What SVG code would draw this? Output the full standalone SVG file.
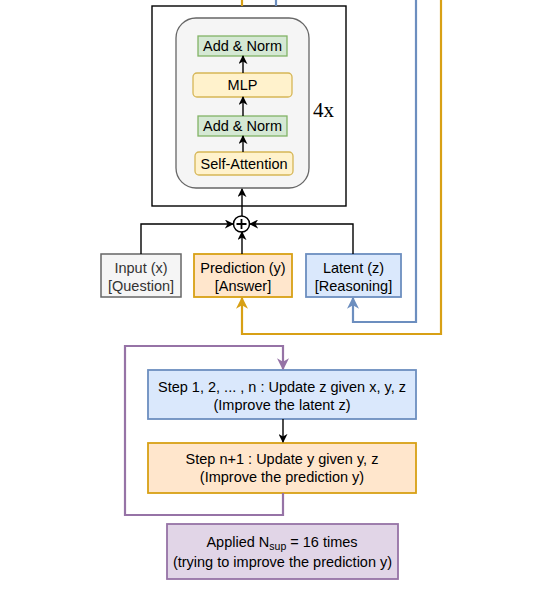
<svg xmlns="http://www.w3.org/2000/svg" width="553" height="600" viewBox="0 0 553 600">
<defs>
<marker id="ab" viewBox="0 0 10 10" refX="9" refY="5" markerWidth="9" markerHeight="9" markerUnits="userSpaceOnUse" orient="auto"><path d="M0,0 L10,5 L0,10 L3,5 Z" fill="#000"/></marker>
<marker id="ao" viewBox="0 0 10 10" refX="9" refY="5" markerWidth="12" markerHeight="12" markerUnits="userSpaceOnUse" orient="auto"><path d="M0,0 L10,5 L0,10 L3,5 Z" fill="#d8a015"/></marker>
<marker id="al" viewBox="0 0 10 10" refX="9" refY="5" markerWidth="12" markerHeight="12" markerUnits="userSpaceOnUse" orient="auto"><path d="M0,0 L10,5 L0,10 L3,5 Z" fill="#6c8ebf"/></marker>
<marker id="ap" viewBox="0 0 10 10" refX="9" refY="5" markerWidth="12" markerHeight="12" markerUnits="userSpaceOnUse" orient="auto"><path d="M0,0 L10,5 L0,10 L3,5 Z" fill="#9673a6"/></marker>
</defs>
<style>
text{font-family:"Liberation Sans",Arial,sans-serif;font-size:14.5px;text-anchor:middle;dominant-baseline:central;fill:#000}
.green{fill:#d5e8d4;stroke:#82b366;stroke-width:1.3}
.yel{fill:#fff2cc;stroke:#d6b656;stroke-width:1.3}
.gray{fill:#f5f5f5;stroke:#666666;stroke-width:1.5}
.org{fill:#ffe6cc;stroke:#d8a015;stroke-width:1.8}
.blu{fill:#dae8fc;stroke:#6c8ebf;stroke-width:1.8}
.pur{fill:#e1d5e7;stroke:#9673a6;stroke-width:1.8}
.k{fill:none;stroke:#000;stroke-width:1.4}
.lo{fill:none;stroke:#d8a015;stroke-width:2.2}
.lb{fill:none;stroke:#6c8ebf;stroke-width:2.2}
.lp{fill:none;stroke:#9673a6;stroke-width:2.2}
</style>
<rect width="553" height="600" fill="#fff"/>

<g id="outer-block">
<rect x="152" y="6" width="194" height="200" fill="none" stroke="#000" stroke-width="1.4"/>
<text x="323.5" y="110" style="font-family:'Liberation Serif','Times New Roman',serif;font-size:21px">4x</text>
</g>
<g id="layer-stack">
<rect x="176" y="18" width="133" height="170" rx="20" fill="#f5f5f5" stroke="#666666" stroke-width="1.3"/>
</g>
<g id="add-norm-top"><rect class="green" x="198" y="36" width="89" height="20"/><text x="242.5" y="46">Add &amp; Norm</text></g>
<g id="mlp"><rect class="yel" x="193" y="73" width="99" height="24" rx="4"/><text x="242.5" y="85">MLP</text></g>
<g id="add-norm-bottom"><rect class="green" x="198" y="116" width="89" height="20"/><text x="242.5" y="126">Add &amp; Norm</text></g>
<g id="self-attention"><rect class="yel" x="195" y="152" width="98" height="23" rx="4"/><text x="244" y="163.5">Self-Attention</text></g>

<g id="sum"><circle cx="241.5" cy="224" r="8" fill="#fff" stroke="#000" stroke-width="1.5"/><path d="M236.5,224 H246.5 M241.5,219 V229" stroke="#000" stroke-width="1.8"/></g>

<g id="input"><rect class="gray" x="101" y="254" width="80" height="43"/><text x="141" y="268" style="fill:#333">Input (x)</text><text x="141" y="286" style="fill:#333">[Question]</text></g>
<g id="prediction"><rect class="org" x="194" y="254" width="98" height="43"/><text x="243" y="268">Prediction (y)</text><text x="243" y="286">[Answer]</text></g>
<g id="latent"><rect class="blu" x="306" y="254" width="95" height="43"/><text x="353.5" y="268">Latent (z)</text><text x="353.5" y="286">[Reasoning]</text></g>

<g id="step1"><rect class="blu" x="148" y="370" width="268" height="49"/><text x="282" y="387">Step 1, 2, ... , n : Update z given x, y, z</text><text x="282" y="405">(Improve the latent z)</text></g>
<g id="step2"><rect class="org" x="148" y="443" width="268" height="50"/><text x="282" y="459">Step n+1 : Update y given y, z</text><text x="282" y="477">(Improve the prediction y)</text></g>
<g id="applied"><rect class="pur" x="167" y="524" width="231" height="55"/><text x="282" y="542">Applied N<tspan dy="4" style="font-size:10.5px">sup</tspan><tspan dy="-4"> = 16 times</tspan></text><text x="282.5" y="562">(trying to improve the prediction y)</text></g>

<g id="connectors">
<path class="lo" d="M242,0 V6"/>
<path class="lb" d="M276,0 V6"/>
<path class="lb" d="M416,0 V322 H353 V298" marker-end="url(#al)"/>
<path class="lo" d="M441,0 V334 H242 V298" marker-end="url(#ao)"/>
<path class="k" d="M242,216 V189" marker-end="url(#ab)"/>
<path class="k" d="M243,152 V136" marker-end="url(#ab)"/>
<path class="k" d="M243,116 V97" marker-end="url(#ab)"/>
<path class="k" d="M243,73 V56" marker-end="url(#ab)"/>
<path class="k" d="M141,254 V224 H233" marker-end="url(#ab)"/>
<path class="k" d="M353,254 V224 H250" marker-end="url(#ab)"/>
<path class="k" d="M242,254 V232" marker-end="url(#ab)"/>
<path class="k" d="M283,419 V442" marker-end="url(#ab)"/>
<path class="lp" d="M283,493 V515 H125 V346 H283 V369" marker-end="url(#ap)"/>
</g>
</svg>
